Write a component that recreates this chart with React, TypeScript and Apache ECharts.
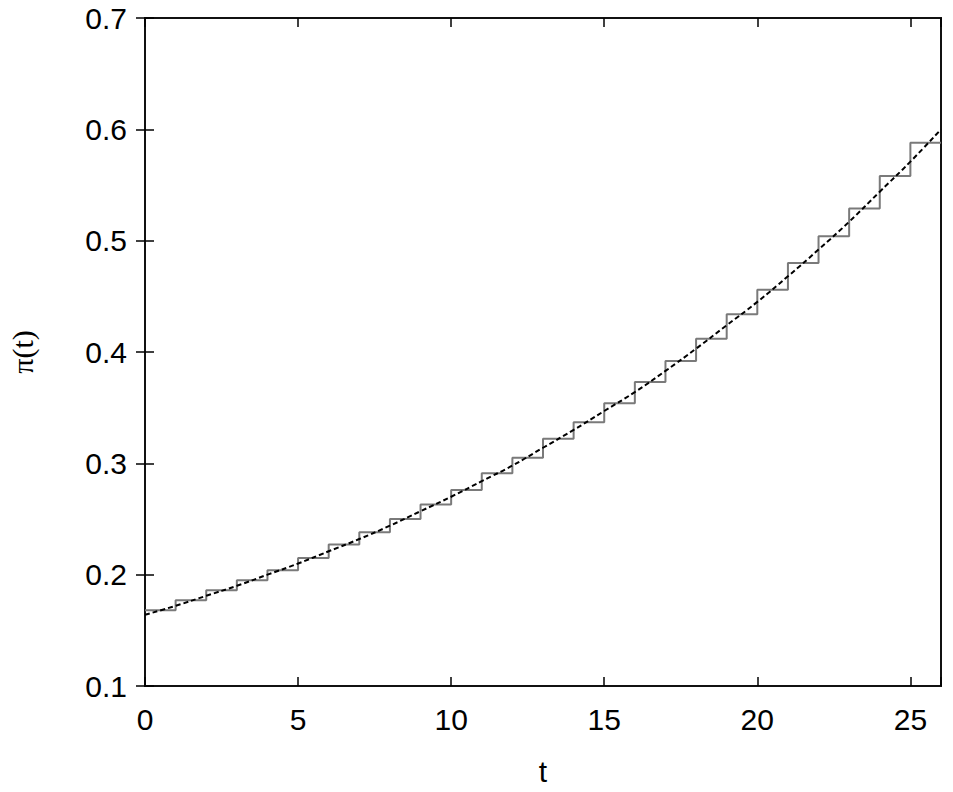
import React, { useEffect, useRef } from "react";
import * as echarts from "echarts";

const stepT = [0,1,2,3,4,5,6,7,8,9,10,11,12,13,14,15,16,17,18,19,20,21,22,23,24,25,26];
const stepValues = [0.168,0.177,0.186,0.195,0.204,0.215,0.227,0.238,0.250,0.263,0.276,0.291,0.305,0.322,0.337,0.354,0.373,0.392,0.412,0.434,0.456,0.480,0.504,0.529,0.558,0.588,0.588];
const curveT = [0,1,2,3,4,5,6,7,8,9,10,11,12,13,14,15,16,17,18,19,20,21,22,23,24,25,26];
const curveValues = [0.164,0.172,0.181,0.190,0.200,0.210,0.221,0.232,0.244,0.257,0.270,0.284,0.298,0.314,0.330,0.347,0.364,0.383,0.403,0.424,0.445,0.468,0.492,0.517,0.544,0.571,0.600];
const xTicks = [0, 5, 10, 15, 20, 25];
const yTicks = [0.1, 0.2, 0.3, 0.4, 0.5, 0.6, 0.7];

export default function App() {
  const ref = useRef<HTMLDivElement>(null);
  useEffect(() => {
    if (!ref.current) return;
    const chart = echarts.init(ref.current, null, { renderer: "svg" });
    const font = "'Liberation Sans', Arial, Helvetica, sans-serif";
    const tickStyle = { lineStyle: { color: "#000", width: 1.5 } };
    chart.setOption({
      animation: false,
      backgroundColor: "#fff",
      grid: { left: 145, top: 18, right: 12, bottom: 106, show: true, borderColor: "#111", borderWidth: 2, backgroundColor: "transparent" },
      xAxis: [
        {
          type: "value", min: 0, max: 26, interval: 5, position: "bottom",
          axisLine: { show: false },
          axisTick: { show: true, inside: true, length: 9, ...tickStyle },
          splitLine: { show: false },
          axisLabel: {
            color: "#000", fontSize: 30, fontFamily: font, margin: 18,
            formatter: (v: number) => (xTicks.includes(v) ? String(v) : ""),
          },
          name: "t", nameLocation: "middle", nameGap: 70,
          nameTextStyle: { color: "#000", fontSize: 30, fontFamily: font },
        },
        {
          type: "value", min: 0, max: 26, interval: 5, position: "top",
          axisLine: { show: false },
          axisTick: { show: true, inside: true, length: 9, ...tickStyle },
          splitLine: { show: false },
          axisLabel: { show: false },
        },
      ],
      yAxis: [
        {
          type: "value", min: 0.1, max: 0.7, interval: 0.1, position: "left",
          axisLine: { show: false },
          axisTick: { show: true, inside: true, length: 9, ...tickStyle },
          splitLine: { show: false },
          axisLabel: {
            color: "#000", fontSize: 30, fontFamily: font, margin: 18,
            formatter: (v: number) => {
              const s = v.toFixed(1);
              return yTicks.map((y) => y.toFixed(1)).includes(s) ? s : "";
            },
          },
        },
        {
          type: "value", min: 0.1, max: 0.7, interval: 0.1, position: "right",
          axisLine: { show: false },
          axisTick: { show: true, inside: true, length: 9, ...tickStyle },
          splitLine: { show: false },
          axisLabel: { show: false },
        },
      ],
      graphic: [
        {
          type: "text", x: 22, y: 352, rotation: Math.PI / 2,
          style: {
            text: "π(t)", fill: "#000", fontSize: 30,
            fontFamily: "'Liberation Serif', 'DejaVu Serif', serif",
            align: "center", verticalAlign: "middle",
          },
        },
      ],
      series: [
        {
          type: "line", step: "end", showSymbol: false, symbol: "none",
          data: stepT.map((t, i) => [t, stepValues[i]]),
          lineStyle: { color: "#7a7a7a", width: 2 },
          z: 2,
        },
        {
          type: "line", smooth: true, showSymbol: false, symbol: "none",
          data: curveT.map((t, i) => [t, curveValues[i]]),
          lineStyle: { color: "#000", width: 2, type: [5, 3] },
          z: 3,
        },
      ],
    });
    return () => chart.dispose();
  }, []);
  return <div ref={ref} style={{ width: 953, height: 792, position: "absolute", left: 0, top: 0 }} />;
}
